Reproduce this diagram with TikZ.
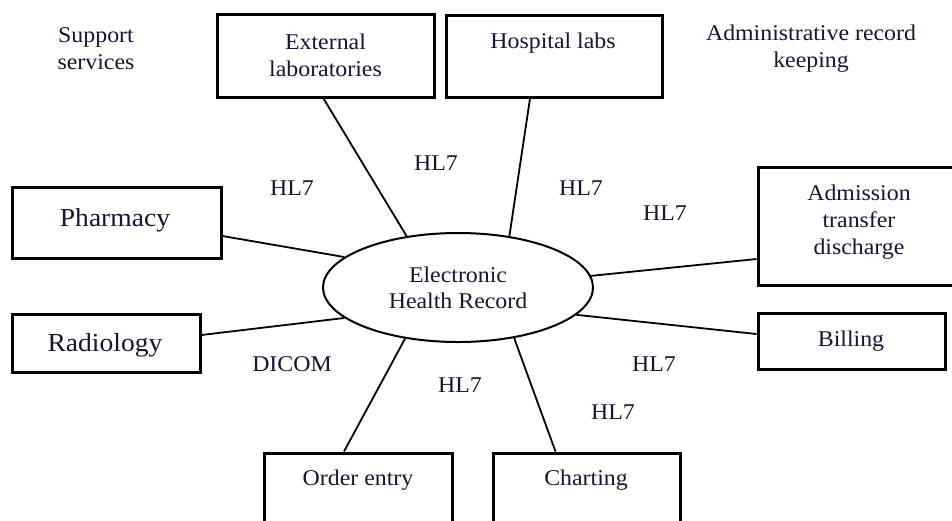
\documentclass[tikz,border=0pt]{standalone}
\usepackage{fontspec}
\setmainfont{Liberation Serif}[FakeStretch=1.06]
\usetikzlibrary{shapes.geometric}
\definecolor{ink}{RGB}{22,22,50}
\tikzset{
  box/.style={draw=black, line width=3pt, inner sep=0pt, rectangle},
  conn/.style={draw=black, line width=1.8pt},
  lbl/.style={text=ink, font=\fontsize{22.5}{27}\selectfont, align=center, inner sep=0pt},
  big/.style={text=ink, font=\fontsize{26}{30}\selectfont, align=center, inner sep=0pt},
  hub/.style={draw=black, line width=2pt, ellipse, inner sep=0pt, minimum width=270pt, minimum height=109pt,
              text=ink, font=\fontsize{22.5}{26}\selectfont, align=center}
}
\begin{document}
\begin{tikzpicture}[x=1pt,y=-1pt]
\useasboundingbox (0,0) rectangle (952,520);
\clip (0,0) rectangle (952,520);
\fill[white] (0,0) rectangle (952,520);

% hub
\node[hub] (ehr) at (458,287.5) {Electronic\\Health Record};

% boxes
\node[box, minimum width=217pt, minimum height=83pt] (ext) at (325.5,55.5) {};
\node[box, minimum width=216pt, minimum height=82pt] (hos) at (554,56) {};
\node[box, minimum width=209pt, minimum height=71pt] (pha) at (116.5,222.5) {};
\node[box, minimum width=188pt, minimum height=58pt] (rad) at (106,343) {};
\node[box, minimum width=202pt, minimum height=118pt] (adm) at (859,226) {};
\node[box, minimum width=187pt, minimum height=56pt] (bil) at (851.5,341) {};
\node[box, minimum width=188pt, minimum height=82pt] (ord) at (358,494) {};
\node[box, minimum width=187pt, minimum height=82pt] (cha) at (586.5,494) {};

% box texts
\node[lbl] (extT) at (325.5,55) {External\\laboratories};
\node[lbl] (hosT) at (553,43) {Hospital labs};
\node[big] (phaT) at (115,220) {Pharmacy};
\node[big] (radT) at (105,345) {Radiology};
\node[lbl] (admT) at (859,222) {Admission\\transfer\\discharge};
\node[lbl] (bilT) at (851,341) {Billing};
\node[lbl] (ordT) at (358,480) {Order entry};
\node[lbl] (chaT) at (586,480) {Charting};

% free texts
\node[lbl] (sup) at (96,49) {Support\\services};
\node[lbl] (admin) at (811,49) {Administrative record\\keeping};

% connectors
\draw[conn] ([xshift=-2pt]ext.south) -- (ehr.135);
\draw[conn] ([xshift=-24pt]hos.south) -- (ehr.45);
\draw[conn] ([yshift=-13.5pt]pha.east) -- (ehr.165);
\draw[conn] ([yshift=-33pt]adm.west) -- (ehr.5);
\draw[conn] ([yshift=7pt]bil.west) -- (ehr.-13);
\draw[conn] ([yshift=8pt]rad.east) -- (ehr.195);
\draw[conn] ([xshift=-14pt]ord.north) -- (ehr.224);
\draw[conn] ([xshift=-31pt]cha.north) -- (ehr.-42);

% protocol labels
\node[lbl] (p1) at (292,188) {HL7};
\node[lbl] (p2) at (436,163) {HL7};
\node[lbl] (p3) at (581,188) {HL7};
\node[lbl] (p4) at (665,213) {HL7};
\node[lbl] (p5) at (292,364) {DICOM};
\node[lbl] (p6) at (460,385) {HL7};
\node[lbl] (p7) at (654,364) {HL7};
\node[lbl] (p8) at (613,412) {HL7};
\end{tikzpicture}
\end{document}
